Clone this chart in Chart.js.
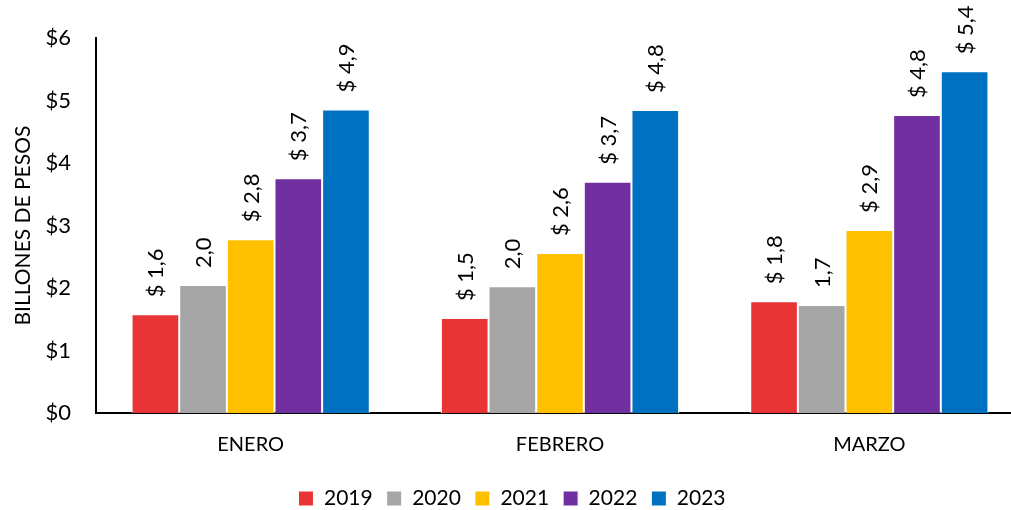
<!DOCTYPE html>
<html>
<head>
<meta charset="utf-8">
<script src="https://cdn.jsdelivr.net/npm/chart.js@4"></script>
<style>
  html, body { margin: 0; padding: 0; background: #fff; overflow: hidden; }
  #wrap { width: 1024px; height: 510px; }
</style>
</head>
<body>
<div id="wrap"><canvas id="myChart"></canvas></div>
<script>
const months = ["ENERO", "FEBRERO", "MARZO"];
const years = ["2019", "2020", "2021", "2022", "2023"];
const v2019 = [1.58, 1.52, 1.79];
const v2020 = [2.05, 2.03, 1.73];
const v2021 = [2.78, 2.56, 2.93];
const v2022 = [3.76, 3.70, 4.77];
const v2023 = [4.86, 4.85, 5.47];
const shown2019 = ["$ 1,6", "$ 1,5", "$ 1,8"];
const shown2020 = ["2,0", "2,0", "1,7"];
const shown2021 = ["$ 2,8", "$ 2,6", "$ 2,9"];
const shown2022 = ["$ 3,7", "$ 3,7", "$ 4,8"];
const shown2023 = ["$ 4,9", "$ 4,8", "$ 5,4"];
const yTicks = ["$0", "$1", "$2", "$3", "$4", "$5", "$6"];

const barColors = ["#e83434", "#a6a6a6", "#ffc000", "#7030a0", "#0070c0"];
const allValues = [v2019, v2020, v2021, v2022, v2023];
const allShown = [shown2019, shown2020, shown2021, shown2022, shown2023];
const FONT = "Lato, 'DejaVu Sans', sans-serif";

// rotated value labels above each bar
const labelPlugin = {
    id: "barLabels",
    afterDatasetsDraw(chart) {
        const ctx = chart.ctx;
        ctx.save();
        ctx.font = "22px " + FONT;
        ctx.fillStyle = "#000";
        ctx.textAlign = "left";
        ctx.textBaseline = "middle";
        chart.data.datasets.forEach((ds, i) => {
            chart.getDatasetMeta(i).data.forEach((bar, j) => {
                ctx.save();
                ctx.translate(bar.x + 1, bar.y - 17);
                ctx.rotate(-Math.PI / 2);
                ctx.fillText(allShown[i][j], 0, 0);
                ctx.restore();
            });
        });
        ctx.restore();
    }
};

new Chart("myChart", {
    type: "bar",
    data: {
        labels: months,
        datasets: years.map((y, i) => ({
            label: y,
            data: allValues[i],
            backgroundColor: barColors[i],
            borderColor: "#ffffff",
            borderWidth: 1,
            categoryPercentage: 0.77,
            barPercentage: 1.0
        }))
    },
    options: {
        responsive: true,
        maintainAspectRatio: false,
        animation: false,
        layout: { padding: { top: 34, right: 0, left: 0, bottom: -9 } },
        plugins: {
            legend: {
                position: "bottom",
                labels: {
                    font: { size: 21, family: FONT },
                    color: "#000",
                    boxWidth: 15,
                    boxHeight: 15,
                    padding: 14
                }
            },
            tooltip: { enabled: false }
        },
        scales: {
            x: {
                afterFit: (scale) => { scale.height = 61; },
                grid: { display: false, drawTicks: false },
                border: { color: "#000", width: 2 },
                ticks: { color: "#000", font: { size: 20, family: FONT }, padding: 20 }
            },
            y: {
                min: 0,
                max: 6,
                afterFit: (scale) => { scale.width = 96; },
                grid: { display: false, drawTicks: false },
                border: { color: "#000", width: 2 },
                ticks: {
                    stepSize: 1,
                    color: "#000",
                    font: { size: 22, family: FONT },
                    padding: 25,
                    callback: (v) => yTicks[v]
                },
                title: {
                    display: true,
                    text: "BILLONES DE PESOS",
                    color: "#000",
                    font: { size: 21, family: FONT },
                    padding: { top: 11, bottom: 0 }
                }
            }
        }
    },
    plugins: [labelPlugin]
});
</script>
</body>
</html>
